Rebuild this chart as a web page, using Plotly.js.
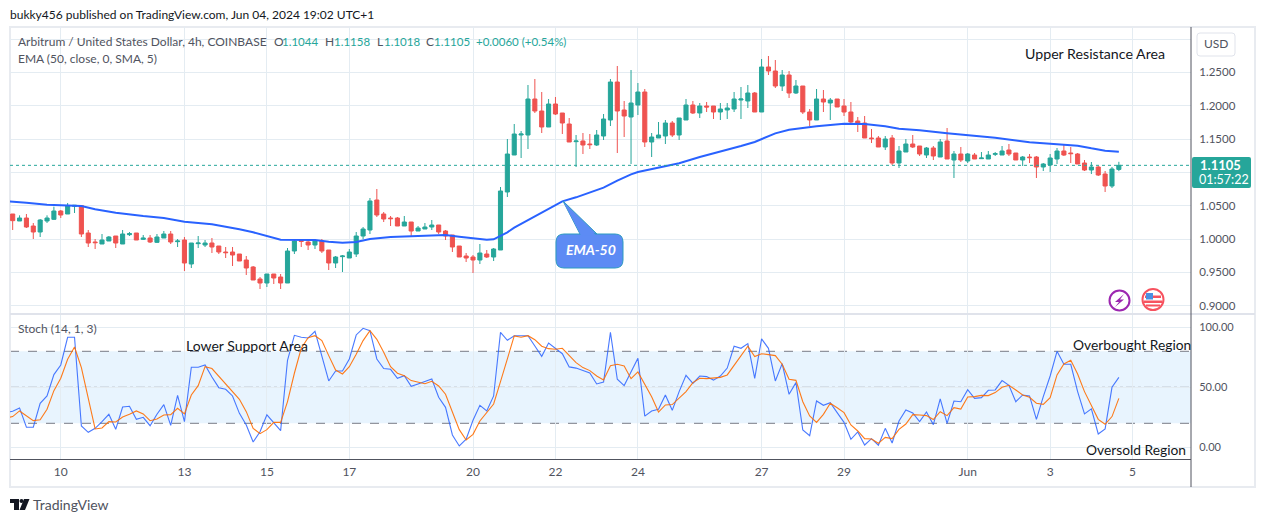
<!DOCTYPE html>
<html>
<head>
<meta charset="utf-8">
<script src="https://cdn.plot.ly/plotly-3.0.1.min.js"></script>
<style>html,body{margin:0;padding:0;background:#fff;overflow:hidden}#chart{width:1265px;height:522px}</style>
</head>
<body>
<div id="chart"></div>
<script>
const opens = [1.0375,1.027,1.0315,1.0195,1.0105,1.027,1.0295,1.042,1.0375,1.049,1.05,1.009,.9955,.9925,.997,1.0045,.9925,1.0065,1.009,.9995,1.0015,.995,1.0015,1.0075,.996,.9985,.9625,.993,.991,.994,.9895,.9805,.9805,.9775,.9685,.958,.94,.934,.9475,.943,.934,.982,.9975,.9955,.991,.997,.9835,.964,.9735,.9715,.9775,1.0045,1.0135,1.0585,1.0375,1.0315,1.0315,1.0195,1.0255,1.012,1.015,1.018,1.021,1.012,1.006,.9895,.9745,.973,.9685,.9775,.973,.9835,1.0705,1.126,1.156,1.156,1.21,1.192,1.168,1.2025,1.189,1.1725,1.146,1.147,1.1425,1.141,1.1545,1.1785,1.2355,1.1935,1.183,1.201,1.2205,1.1455,1.1515,1.1545,1.174,1.156,1.1785,1.201,1.189,1.1995,1.1995,1.1905,1.1935,1.195,1.2085,1.207,1.219,1.1905,1.258,1.252,1.2295,1.246,1.219,1.2295,1.1905,1.1785,1.21,1.204,1.21,1.1995,1.1905,1.177,1.174,1.1515,1.1515,1.138,1.1515,1.114,1.1305,1.1425,1.1395,1.126,1.1365,1.123,1.147,1.1185,1.1275,1.117,1.126,1.1205,1.12,1.127,1.126,1.1335,1.129,1.1185,1.123,1.123,1.108,1.111,1.12,1.132,1.129,1.1275,1.114,1.1035,1.108,1.0975,1.0795,1.1044];
const highs = [1.0375,1.0355,1.0375,1.024,1.03,1.0355,1.0485,1.0435,1.054,1.051,1.051,1.0135,1.0,1.0075,1.0045,1.0045,1.0135,1.0105,1.009,1.006,1.006,1.0075,1.012,1.012,1.0,1.003,.994,1.0045,.9985,1.0015,.9895,.988,.988,.9775,.9745,.9595,.943,.9475,.9475,.9475,.9865,1.0,1.0,.9985,1.0,1.0,.9835,.9745,.976,.985,1.0105,1.018,1.0615,1.075,1.0405,1.0345,1.033,1.0345,1.0255,1.0195,1.024,1.0285,1.021,1.0135,1.006,.9895,.979,.976,.9925,.9835,.9865,1.078,1.15,1.1725,1.162,1.231,1.24,1.2205,1.21,1.213,1.189,1.1815,1.156,1.159,1.1575,1.1635,1.1875,1.24,1.2595,1.207,1.2535,1.234,1.225,1.159,1.1755,1.1785,1.177,1.1815,1.21,1.207,1.204,1.2055,1.1995,1.204,1.204,1.2205,1.228,1.231,1.2205,1.27,1.2745,1.2685,1.2535,1.252,1.2385,1.2295,1.195,1.225,1.2235,1.2115,1.21,1.21,1.2055,1.183,1.1845,1.165,1.1545,1.1545,1.156,1.1395,1.15,1.156,1.1395,1.138,1.1395,1.15,1.1665,1.132,1.138,1.129,1.129,1.1305,1.132,1.1305,1.1395,1.1425,1.129,1.1245,1.1275,1.1245,1.114,1.1275,1.1365,1.141,1.138,1.129,1.1185,1.1155,1.1095,1.102,1.108,1.1158];
const lows = [1.0135,1.027,1.0165,1.0,1.003,1.024,1.0285,1.0315,1.0375,1.039,1.003,.988,.985,.9925,.997,.9865,.9925,1.0045,.9985,.9985,.994,.994,1.0015,.9925,.988,.952,.9565,.9865,.988,.979,.9775,.9715,.9595,.967,.946,.9385,.925,.928,.9325,.925,.934,.9775,.988,.9835,.985,.979,.9535,.9565,.9505,.9715,.973,1.0,1.0075,1.033,1.0255,1.0195,1.0195,1.0195,1.0045,1.012,1.015,1.0135,1.0075,.9985,.9805,.973,.9655,.949,.9625,.9715,.967,.9835,1.063,1.126,1.1215,1.135,1.189,1.159,1.168,1.186,1.1575,1.1455,1.108,1.1275,1.135,1.1395,1.1485,1.1695,1.129,1.153,1.1125,1.186,1.138,1.123,1.1515,1.1425,1.153,1.1485,1.1785,1.1875,1.1815,1.1905,1.18,1.1785,1.18,1.1905,1.18,1.1965,1.1905,1.1905,1.246,1.2265,1.222,1.2115,1.2175,1.1875,1.1695,1.1785,1.1905,1.1785,1.198,1.1845,1.174,1.1605,1.1515,1.144,1.138,1.1335,1.111,1.1065,1.1305,1.1365,1.1245,1.1215,1.1185,1.123,1.12,1.0915,1.1155,1.114,1.12,1.12,1.12,1.1245,1.126,1.1245,1.1185,1.1095,1.114,1.0915,1.102,1.1005,1.1125,1.1245,1.114,1.1125,1.102,1.0975,1.0945,1.0705,1.0765,1.1018];
const closes = [1.0275,1.0315,1.018,1.0105,1.0285,1.0315,1.042,1.036,1.0495,1.0505,1.0075,.994,.9945,.9985,1.003,.994,1.0075,1.008,.9985,1.0015,.9955,1.003,1.0075,.9955,.997,.964,.994,.994,.994,.988,.9805,.9795,.976,.967,.9565,.9385,.934,.9475,.9415,.934,.982,.997,.9965,.991,.997,.982,.964,.973,.9745,.9805,1.0045,1.015,1.057,1.036,1.03,1.0305,1.0195,1.0255,1.012,1.0165,1.018,1.021,1.0105,1.0045,.988,.973,.9715,.9685,.979,.973,.985,1.072,1.1275,1.1575,1.1575,1.21,1.192,1.168,1.2025,1.1875,1.174,1.1455,1.147,1.141,1.1415,1.156,1.18,1.2355,1.192,1.1845,1.204,1.2205,1.1455,1.153,1.156,1.174,1.156,1.1815,1.201,1.189,1.1995,1.198,1.1905,1.195,1.1965,1.21,1.21,1.219,1.1905,1.258,1.252,1.2295,1.246,1.219,1.2295,1.1905,1.1785,1.21,1.2055,1.2085,1.198,1.1905,1.1755,1.1725,1.1515,1.1505,1.138,1.15,1.114,1.132,1.1425,1.138,1.1275,1.1365,1.1245,1.1455,1.12,1.1275,1.1185,1.1275,1.12,1.1215,1.126,1.128,1.132,1.1275,1.1185,1.123,1.122,1.108,1.1125,1.1215,1.132,1.126,1.128,1.1125,1.1035,1.108,1.096,1.0795,1.105,1.1105];
const emaIndex = [-1,0,2,5,8,10,12,15,19,22,25,29,33,35,39,41,44,46,48,50,52,55,61,63,65,67,69,70,71,72,73,75,76,78,80,82,85,86,88,90,91,95,97,100,104,106,108,109,111,113,115,117,121,124,127,129,132,136,143,148,153,155,157,159,161];
const emaValues = [1.0565,1.056,1.0545,1.0515,1.0505,1.0495,1.0445,1.0395,1.0345,1.0315,1.026,1.022,1.0145,1.01,.999,.9985,.9985,.996,.9945,.9955,1.0,1.003,1.006,1.006,1.0035,1.001,.999,.9995,1.005,1.01,1.017,1.0285,1.0335,1.0445,1.0565,1.0625,1.0735,1.077,1.0875,1.097,1.1005,1.1085,1.1135,1.123,1.1335,1.1395,1.1455,1.1495,1.1585,1.164,1.167,1.169,1.173,1.1725,1.169,1.1655,1.163,1.1585,1.152,1.145,1.1415,1.14,1.136,1.1325,1.131];
const stochIndex = [-1];
const stochKLead = [29];
const stochDLead = [24.4];
const stochK = [30,32.8,16.7,16.7,36.7,42.8,60.6,68.6,91.7,91.7,17.8,12.5,15.8,21.4,27.5,15,33.6,34.2,23.3,25,18,27.5,35.6,18.3,43.3,21.4,66.7,66.7,68.6,58.6,49.7,48.3,42.8,28.3,18.6,4.4,13,27,20.8,13.9,72.5,93.3,91.7,91.1,96.7,76.4,55.3,63.6,63.6,73.6,93.6,99.2,97.2,73.6,65.6,65,57.5,59.7,50.8,52.8,55,56.9,41.7,33.3,10.3,1.1,6.7,22.5,35,30.3,42.8,95.8,89.2,93,93,93,84.4,75.8,86.9,82.8,78,67,66,64,62,52.8,54.4,95.8,56.7,51.4,62.8,74.2,26,30.3,31.7,43.6,30.8,46.4,60,53.3,59.4,58.9,56,59.4,66,84.2,82.5,86.4,57.5,90.3,82.5,55.3,69.7,44.2,53.9,14.4,9.7,38.6,35,37.2,28.9,20.8,6.7,12.8,1.9,7.2,1.7,15.8,3.6,21.9,31.1,28.6,21.4,29.4,18.9,40.3,20,38.6,38,48,40.8,41.4,47.5,47.8,55.6,51.7,38,43.6,42.8,23.3,42.2,59.4,80,69.2,69.2,46.4,27.8,32,11.1,15.3,50,58.3];
const stochD = [25.6,30.3,26.1,22.2,23,31.7,47.2,57.5,73.3,83.6,66.4,39.4,15.3,16.1,21.4,21.1,25.3,27.5,30.3,27.8,22.2,23.6,26.9,27.2,32.5,27.8,43.6,51.4,67.2,65.6,59.4,52.8,46.9,40,29.7,15.8,11.4,14.7,20.8,20.8,38.1,61.7,82.5,91.4,93,88.9,76.4,64.4,61.1,67.2,77.5,88.9,97.2,90,79.2,67.2,61.7,59.7,55.6,54.2,53,55,51.1,44.2,28.6,14.7,6.1,10.8,21.9,29.2,36.1,54.7,74.2,92.8,91.7,93,89.7,84.2,82.2,81.7,82.5,76.4,70.6,66.4,63.9,59.4,56.1,68,69.2,67.8,57.2,62.8,52.8,42.2,29.4,35.3,35.6,40.8,46.4,53.9,57.5,57.2,58,58.3,60.3,68.6,76.4,84.2,75.6,78,77.2,76.4,69.2,56.7,55.8,38,26.1,20.8,27.5,36.7,33,28.9,18.6,13.6,7.2,6.9,3.3,8.3,7.2,15,19.4,27.2,26.9,26.4,23.1,29.7,26.4,33,31.9,41.9,42.2,43.3,43.1,45.6,50,51.7,47.8,43.6,41.7,36.7,35.8,41.4,60.3,69.4,72.5,61.1,46.4,34.7,23.3,19.2,25.6,40.8];
const dayTickIndex = [7,25,37,49,67,79,91,109,121,139,151,163];
const dayTickLabels = ['10','13','15','17','20','22','24','27','29','Jun','3','5'];
const priceTicks = [0.90,0.95,1.00,1.05,1.10,1.15,1.20,1.25,1.30];
const priceTickLabels = ['0.9000','0.9500','1.0000','1.0500','','1.1500','1.2000','1.2500',''];
const stochTicks = [0,50,100];
const stochTickLabels = ['0.00','50.00','100.00'];

const W = 1265, H = 522;
const fx = x => x / W, fy = y => 1 - y / H;
const FONT = 'Lato, "Open Sans", sans-serif';
const GREEN = '#26a69a', RED = '#ef5350', GRID = '#e4ecf2', TXT = '#50535e', DARK = '#131722';
const idx = opens.map((_, i) => i);
const stochX = stochIndex.concat(idx);

const traces = [
  {type:'candlestick', x:idx, open:opens, high:highs, low:lows, close:closes, xaxis:'x', yaxis:'y', whiskerwidth:0,
   increasing:{line:{color:GREEN,width:1}, fillcolor:GREEN}, decreasing:{line:{color:RED,width:1}, fillcolor:RED}, hoverinfo:'skip'},
  {type:'scatter', mode:'lines', x:emaIndex, y:emaValues, xaxis:'x', yaxis:'y', line:{color:'#2962ff',width:2}, hoverinfo:'skip'},
  {type:'scatter', mode:'lines', x:stochX, y:stochKLead.concat(stochK), xaxis:'x', yaxis:'y2', line:{color:'#2962ff',width:1.1}, opacity:.85, hoverinfo:'skip'},
  {type:'scatter', mode:'lines', x:stochX, y:stochDLead.concat(stochD), xaxis:'x', yaxis:'y2', line:{color:'#ff6d00',width:1.1}, opacity:.9, hoverinfo:'skip'}
];

function note(text, x, y, size, color, extra) {
  return Object.assign({text, xref:'paper', yref:'paper', x:fx(x), y:fy(y - 1), xanchor:'left', yanchor:'middle', showarrow:false,
    font:{family:FONT, size:size, color:color}, borderpad:0, borderwidth:0}, extra || {});
}
const last = closes[closes.length - 1];
const annotations = [
  note('bukky456 published on TradingView.com, Jun 04, 2024 19:02 UTC+1', 10, 15, 12, DARK),
  note('Arbitrum / United States Dollar, 4h, COINBASE', 18, 42, 12, TXT),
  note('O', 274, 42, 12, TXT), note('1.1044', 282, 42, 11.5, GREEN),
  note('H', 325, 42, 12, TXT), note('1.1158', 334, 42, 11.5, GREEN),
  note('L', 377, 42, 12, TXT), note('1.1018', 384, 42, 11.5, GREEN),
  note('C', 426, 42, 12, TXT), note('1.1105', 434, 42, 11.5, GREEN),
  note('+0.0060 (+0.54%)', 476, 42, 11.5, GREEN),
  note('EMA (50, close, 0, SMA, 5)', 18, 59, 12, TXT),
  note('Stoch (14, 1, 3)', 18, 329, 12, TXT),
  note('Upper Resistance Area', 1025, 55, 14.2, DARK),
  note('Lower Support Area', 186, 346, 14, DARK),
  note('Overbought Region', 1073, 345, 13.8, DARK),
  note('Oversold Region', 1086, 450, 13.8, DARK),
  note('USD', 1204, 44, 12, TXT),
  note('<b>' + last.toFixed(4) + '</b>', 1200, 166, 13, '#ffffff'),
  note('01:57:22', 1199, 180, 12.5, '#ffffff'),
  note('<b><i>EMA-50</i></b>', 566, 250, 14, '#ffffff'),
  note('TradingView', 33, 505, 14, TXT)
];

const rrect = (x0,y0,x1,y1,r) => `M${fx(x0+r)},${fy(y0)} L${fx(x1-r)},${fy(y0)} Q${fx(x1)},${fy(y0)} ${fx(x1)},${fy(y0+r)} L${fx(x1)},${fy(y1-r)} Q${fx(x1)},${fy(y1)} ${fx(x1-r)},${fy(y1)} L${fx(x0+r)},${fy(y1)} Q${fx(x0)},${fy(y1)} ${fx(x0)},${fy(y1-r)} L${fx(x0)},${fy(y0+r)} Q${fx(x0)},${fy(y0)} ${fx(x0+r)},${fy(y0)} Z`;
const poly = pts => 'M' + pts.map(p => fx(p[0]) + ',' + fy(p[1])).join(' L') + ' Z';
const paperShape = (o) => Object.assign({xref:'paper', yref:'paper', layer:'above'}, o);
const circle = (cx,cy,r,o) => paperShape(Object.assign({type:'circle', x0:fx(cx-r), x1:fx(cx+r), y0:fy(cy-r), y1:fy(cy+r)}, o));
const rect = (x0,y0,x1,y1,o) => paperShape(Object.assign({type:'rect', x0:fx(x0), x1:fx(x1), y0:fy(y0), y1:fy(y1)}, o));
const hl = (v, color, dash) => ({type:'line', xref:'x domain', yref:'y2', x0:0, x1:1, y0:v, y1:v, layer:'below', line:{color:color, width:1, dash:dash}});

const shapes = [
  {type:'rect', xref:'x domain', yref:'y2', x0:0, x1:1, y0:20, y1:80, layer:'below', fillcolor:'rgba(33,150,243,0.1)', line:{width:0}},
  hl(80,'#787b86','dash'), hl(50,'#8b8e98','dashdot'), hl(20,'#787b86','dash'),
  {type:'line', xref:'x domain', yref:'y', x0:0, x1:1, y0:last, y1:last, line:{color:GREEN,width:1,dash:'dot'}, layer:'above'},
  rect(10,27,1255,487,{line:{color:'#e8ebf0',width:2}, layer:'below'}),
  paperShape({type:'line', x0:fx(10), x1:fx(1255), y0:fy(314), y1:fy(314), line:{color:'#e0e3eb',width:2}}),
  paperShape({type:'path', path:rrect(1197,33,1235,56,3), line:{color:'#e0e3eb',width:1}, fillcolor:'#ffffff'}),
  paperShape({type:'path', path:rrect(1192,157,1251,188,2), line:{width:0}, fillcolor:GREEN}),
  paperShape({type:'path', path:poly([[563,201],[597,234],[580,234]]), line:{color:'#2d9bc0',width:1}, fillcolor:'#5d8bf4'}),
  paperShape({type:'path', path:rrect(556,234,623,268,8), line:{color:'#2d9bc0',width:1}, fillcolor:'#5d8bf4'}),
  paperShape({type:'path', path:poly([[564,203],[596,235.5],[581,235.5]]), line:{width:0}, fillcolor:'#5d8bf4'}),
  circle(1119.5,300.5,10,{line:{color:'#9c27b0',width:2}, fillcolor:'#ffffff'}),
  paperShape({type:'path', path:poly([[1124,294],[1115,302],[1119,302],[1115,307],[1124,299.5],[1120,299.5]]), line:{width:0}, fillcolor:'#9c27b0'}),
  circle(1153,299.5,10.5,{line:{color:'#f7525f',width:2}, fillcolor:'#ffffff'}),
  rect(1145,295.5,1161,298,{line:{width:0}, fillcolor:'#f7525f'}),
  rect(1144,300.5,1162,303,{line:{width:0}, fillcolor:'#f7525f'}),
  rect(1146,304.5,1160,306.5,{line:{width:0}, fillcolor:'#f7525f'}),
  rect(1146,293,1153,299.5,{line:{width:0}, fillcolor:'#4a90e2'}),
  paperShape({type:'path', path:poly([[10,499],[19,499],[19,510],[14,510],[14,503],[10,503]]), line:{width:0}, fillcolor:DARK}),
  paperShape({type:'path', path:poly([[24,499],[29.5,499],[25,510],[19.5,510]]), line:{width:0}, fillcolor:DARK}),
  circle(21.5,501,2,{line:{width:0}, fillcolor:DARK})
];

const layout = {
  width:W, height:H, margin:{l:0,r:0,t:0,b:0,pad:0}, paper_bgcolor:'#ffffff', plot_bgcolor:'#ffffff', showlegend:false,
  boxgap:0.15, font:{family:FONT, size:12, color:TXT},
  xaxis:{domain:[fx(10),fx(1191)], range:[-0.39,171.5], anchor:'y2', rangeslider:{visible:false}, tickmode:'array', tickvals:dayTickIndex, ticktext:dayTickLabels,
    showgrid:true, gridcolor:GRID, gridwidth:1, zeroline:false, showline:true, linecolor:'#50535e', linewidth:1, ticks:'outside', ticklen:2, tickcolor:'rgba(0,0,0,0)', tickfont:{family:FONT,size:12,color:TXT}},
  yaxis:{domain:[fy(313),fy(27)], range:[0.889,1.318], side:'right', anchor:'x', tickmode:'array', tickvals:priceTicks, ticktext:priceTickLabels,
    showgrid:true, gridcolor:GRID, gridwidth:1, zeroline:false, showline:false, ticks:'outside', ticklen:5, tickcolor:'rgba(0,0,0,0)', tickfont:{family:FONT,size:11.5,color:TXT}},
  yaxis2:{domain:[fy(459),fy(315)], range:[-9.75,110.25], side:'right', anchor:'x', tickmode:'array', tickvals:stochTicks, ticktext:stochTickLabels,
    showgrid:true, gridcolor:GRID, gridwidth:1, zeroline:false, showline:false, ticks:'outside', ticklen:5, tickcolor:'rgba(0,0,0,0)', tickfont:{family:FONT,size:11,color:TXT}},
  shapes:shapes.concat([paperShape({type:'line', x0:fx(1191), x1:fx(1191), y0:fy(27), y1:fy(487), line:{color:'#50535e',width:1}})]),
  annotations:annotations
};
Plotly.newPlot('chart', traces, layout, {displayModeBar:false, staticPlot:true});
</script>
</body>
</html>
